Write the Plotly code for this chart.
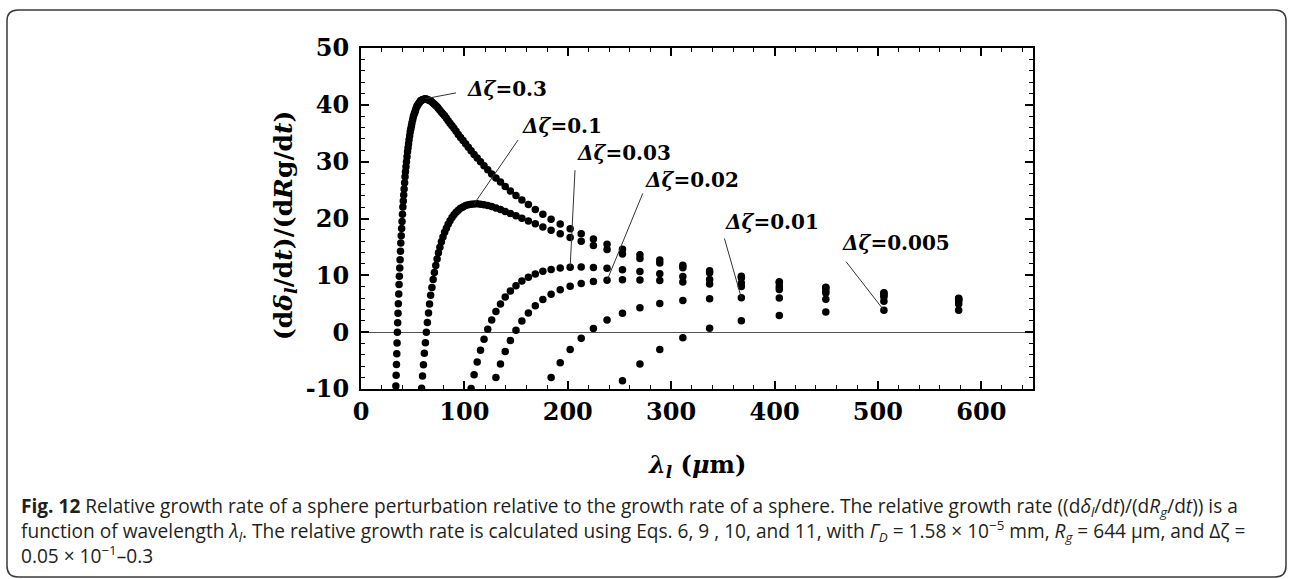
import plotly.graph_objects as go

# ---------------- data ----------------
# wavelength lambda_l (um) of the sampled modes, longest first
wavelength_um = [578.1, 505.8, 449.6, 404.6, 367.9, 337.2, 311.3, 289.0, 269.8, 252.9,
                 238.0, 224.8, 213.0, 202.3, 192.7, 183.9, 175.9, 168.6, 161.9, 155.6,
                 149.9, 144.5, 139.5, 134.9, 130.5, 126.4, 122.6, 119.0, 115.6, 112.4,
                 109.4, 106.5, 103.8, 101.2, 98.7, 96.3, 94.1, 92.0, 89.9, 88.0,
                 86.1, 84.3, 82.6, 80.9, 79.3, 77.8, 76.3, 74.9, 73.6, 72.3,
                 71.0, 69.8, 68.6, 67.4, 66.3, 65.3, 64.2, 63.2, 62.3, 61.3,
                 60.4, 59.5, 58.6, 57.8, 57.0, 56.2, 55.4, 54.7, 54.0, 53.2,
                 52.6, 51.9, 51.2, 50.6, 50.0, 49.3, 48.8, 48.2, 47.6, 47.1,
                 46.5, 46.0, 45.5, 45.0, 44.5, 44.0, 43.5, 43.0, 42.6, 42.2,
                 41.7, 41.3, 40.9, 40.5, 40.1, 39.7, 39.3, 38.9, 38.5, 38.2,
                 37.8, 37.5, 37.1, 36.8, 36.5, 36.1, 35.8, 35.5, 35.2, 34.9,
                 34.6, 34.3, 34.0, 33.7]

rate_dz_0_3 = [5.96, 6.94, 7.92, 8.89, 9.85, 10.81, 11.76, 12.71, 13.64, 14.57,
               15.49, 16.40, 17.30, 18.18, 19.04, 19.89, 20.75, 21.60, 22.46, 23.25,
               24.04, 24.84, 25.63, 26.42, 27.14, 27.85, 28.57, 29.28, 30.00, 30.63,
               31.27, 31.90, 32.54, 33.17, 33.71, 34.25, 34.79, 35.33, 35.87, 36.31,
               36.75, 37.18, 37.62, 38.06, 38.38, 38.71, 39.03, 39.36, 39.68, 39.89,
               40.09, 40.30, 40.50, 40.71, 40.78, 40.86, 40.93, 41.00, 41.08, 41.02,
               40.95, 40.89, 40.82, 40.76, 40.55, 40.34, 40.13, 39.92, 39.71, 39.35,
               38.98, 38.62, 38.25, 37.89, 37.36, 36.83, 36.31, 35.78, 35.25, 34.55,
               33.85, 33.15, 32.45, 31.75, 30.87, 29.99, 29.11, 28.23, 27.35, 26.28,
               25.21, 24.15, 23.08, 22.01, 20.75, 19.48, 18.22, 16.95, 15.69, 14.23,
               12.76, 11.30, 9.83, 8.37, 6.70, 5.02, 3.35, 1.67, 0.00, -1.90,
               -3.79, -5.69, -7.58, -9.48]

rate_dz_0_1 = [5.89, 6.83, 7.77, 8.68, 9.58, 10.46, 11.32, 12.16, 12.97, 13.76,
               14.53, 15.27, 15.98, 16.66, 17.30, 17.93, 18.50, 19.06, 19.56, 20.06,
               20.48, 20.90, 21.25, 21.59, 21.85, 22.10, 22.27, 22.43, 22.50, 22.58,
               22.57, 22.52, 22.40, 22.27, 22.03, 21.79, 21.45, 21.10, 20.64, 20.17,
               19.59, 19.00, 18.29, 17.58, 16.75, 15.91, 14.94, 13.97, 12.86, 11.75,
               10.51, 9.26, 7.87, 6.48, 4.94, 3.39, 1.70, 0.00, -1.85, -3.71,
               -5.72, -7.73, -9.86]

rate_dz_0_03 = [5.64, 6.46, 7.24, 7.97, 8.64, 9.25, 9.79, 10.27, 10.67, 10.99,
                11.23, 11.38, 11.45, 11.41, 11.28, 11.04, 10.70, 10.24, 9.67, 8.99,
                8.18, 7.24, 6.17, 4.97, 3.63, 2.15, 0.52, -1.26, -3.18, -5.27,
                -7.51, -9.92]

rate_dz_0_02 = [5.48, 6.23, 6.91, 7.51, 8.04, 8.48, 8.82, 9.07, 9.20, 9.23,
                9.13, 8.91, 8.56, 8.08, 7.45, 6.67, 5.73, 4.64, 3.38, 1.95,
                0.34, -1.45, -3.42, -5.59, -7.96]

rate_dz_0_01 = [4.95, 5.44, 5.79, 6.00, 6.04, 5.90, 5.58, 5.05, 4.31, 3.34,
                2.13, 0.66, -1.07, -3.07, -5.37, -7.96]

rate_dz_0_005 = [3.87, 3.84, 3.54, 2.93, 2.00, 0.71, -0.97, -3.06, -5.58, -8.56]

series_labels = ["0.3", "0.1", "0.03", "0.02", "0.01", "0.005"]
series_values = [rate_dz_0_3, rate_dz_0_1, rate_dz_0_03, rate_dz_0_02, rate_dz_0_01, rate_dz_0_005]

x_ticks = [0, 100, 200, 300, 400, 500, 600]
y_ticks = [-10, 0, 10, 20, 30, 40, 50]
y_tick_text = ["-10", "0", "10", "20", "30", "40", "50"]

# ---------------- layout geometry ----------------
W, H = 1293, 579
ML, MR, MT, MB = 361, 260, 48, 190
PW, PH = W - ML - MR, H - MT - MB


def fx(px):
    return (px - ML) / PW


def fy(py):
    return (MT + PH - py) / PH


fig = go.Figure()

for lab, vals in zip(series_labels, series_values):
    fig.add_trace(go.Scatter(
        x=wavelength_um[:len(vals)], y=vals, mode="markers",
        marker=dict(color="black", size=7.5, line=dict(width=0)),
        name="Δζ=" + lab, showlegend=False, cliponaxis=True))

# label placement (text left/middle anchor, leader start) and index of the pointed data point
label_style = {
    "0.3":   dict(tx=100.6, ty=42.8, lx=91.9, ly=42.1, idx=58),
    "0.1":   dict(tx=153.8, ty=36.3, lx=151.9, ly=33.8, idx=30),
    "0.03":  dict(tx=207.0, ty=31.5, lx=207.0, ly=28.5, idx=13),
    "0.02":  dict(tx=272.8, ty=26.8, lx=272.5, ly=24.4, idx=10),
    "0.01":  dict(tx=350.2, ty=19.4, lx=351.5, ly=16.5, idx=4),
    "0.005": dict(tx=463.4, ty=15.7, lx=469.2, ly=12.4, idx=1),
}

annotations = []
shapes = []
for lab, vals in zip(series_labels, series_values):
    s = label_style[lab]
    annotations.append(dict(
        x=s["tx"], y=s["ty"], xref="x", yref="y", xanchor="left", yanchor="middle",
        text="<b><i>Δζ</i>=" + lab + "</b>", showarrow=False,
        font=dict(family="DejaVu Serif", size=20, color="black")))
    i = s["idx"]
    shapes.append(dict(type="line", xref="x", yref="y",
                       x0=s["lx"], y0=s["ly"], x1=wavelength_um[i], y1=vals[i],
                       line=dict(color="#333333", width=1)))

# axis titles
annotations.append(dict(
    x=fx(697), y=fy(466), xref="paper", yref="paper", xanchor="center", yanchor="middle",
    text="<b><i>λ<sub>l</sub></i> (<i>μ</i>m)</b>", showarrow=False,
    font=dict(family="DejaVu Serif", size=24, color="black")))
annotations.append(dict(
    x=fx(285), y=fy(226), xref="paper", yref="paper", xanchor="center", yanchor="middle",
    textangle=-90,
    text="<b>(d<i>δ<sub>l</sub></i>/d<i>t</i>)/(d<i>R</i>g/d<i>t</i>)</b>", showarrow=False,
    font=dict(family="DejaVu Serif", size=25, color="black")))

# caption (one block, left aligned)
caption_lines = [
    "<b>Fig. 12</b> Relative growth rate of a sphere perturbation relative to the growth rate of a sphere. "
    "The relative growth rate ((d<i>δ<sub>l</sub></i>/d<i>t</i>)/(d<i>R<sub>g</sub></i>/d<i>t</i>)) is a",
    "function of wavelength <i>λ<sub>l</sub></i>. The relative growth rate is calculated using Eqs. 6, 9 , 10, and 11, "
    "with <i>Γ<sub>D</sub></i> = 1.58 × 10<sup>−5</sup> mm, <i>R<sub>g</sub></i> = 644 μm, and Δζ =",
    "0.05 × 10<sup>−1</sup>–0.3",
]
annotations.append(dict(
    x=fx(19), y=fy(531), xref="paper", yref="paper", xanchor="left", yanchor="middle",
    align="left", text="<br>".join(caption_lines), showarrow=False,
    font=dict(family="Open Sans", size=19.1, color="#231f20")))

# rounded border
L_, R_, T_, B_, r = 7, 1286, 10, 577, 11
path = (f"M {fx(L_ + r)},{fy(T_)} L {fx(R_ - r)},{fy(T_)} Q {fx(R_)},{fy(T_)} {fx(R_)},{fy(T_ + r)} "
        f"L {fx(R_)},{fy(B_ - r)} Q {fx(R_)},{fy(B_)} {fx(R_ - r)},{fy(B_)} "
        f"L {fx(L_ + r)},{fy(B_)} Q {fx(L_)},{fy(B_)} {fx(L_)},{fy(B_ - r)} "
        f"L {fx(L_)},{fy(T_ + r)} Q {fx(L_)},{fy(T_)} {fx(L_ + r)},{fy(T_)} Z")
shapes.append(dict(type="path", xref="paper", yref="paper", path=path,
                   line=dict(color="#3a3a3a", width=1.5), layer="below"))

axis_common = dict(
    showline=True, linecolor="black", linewidth=2, mirror="ticks",
    ticks="inside", ticklen=8, tickwidth=1.5, tickcolor="black",
    showgrid=False,
    tickfont=dict(family="DejaVu Serif", size=24, color="black", weight="bold"),
)

fig.update_layout(
    width=W, height=H, autosize=False,
    margin=dict(l=ML, r=MR, t=MT, b=MB, pad=0),
    paper_bgcolor="white", plot_bgcolor="white",
    xaxis=dict(range=[0, 650], tickvals=x_ticks, zeroline=False,
               minor=dict(dtick=20, ticks="inside", ticklen=4, tickcolor="black", tickwidth=1.2),
               **axis_common),
    yaxis=dict(range=[-10, 50], tickvals=y_ticks, ticktext=y_tick_text,
               zeroline=True, zerolinecolor="#555555", zerolinewidth=1.2,
               ticklabelstandoff=5,
               minor=dict(dtick=2, ticks="inside", ticklen=4, tickcolor="black", tickwidth=1.2),
               **axis_common),
    annotations=annotations,
    shapes=shapes,
    showlegend=False,
)

fig.write_html("out.html", config={"displayModeBar": False},
               post_script="document.body.style.margin='0';")
